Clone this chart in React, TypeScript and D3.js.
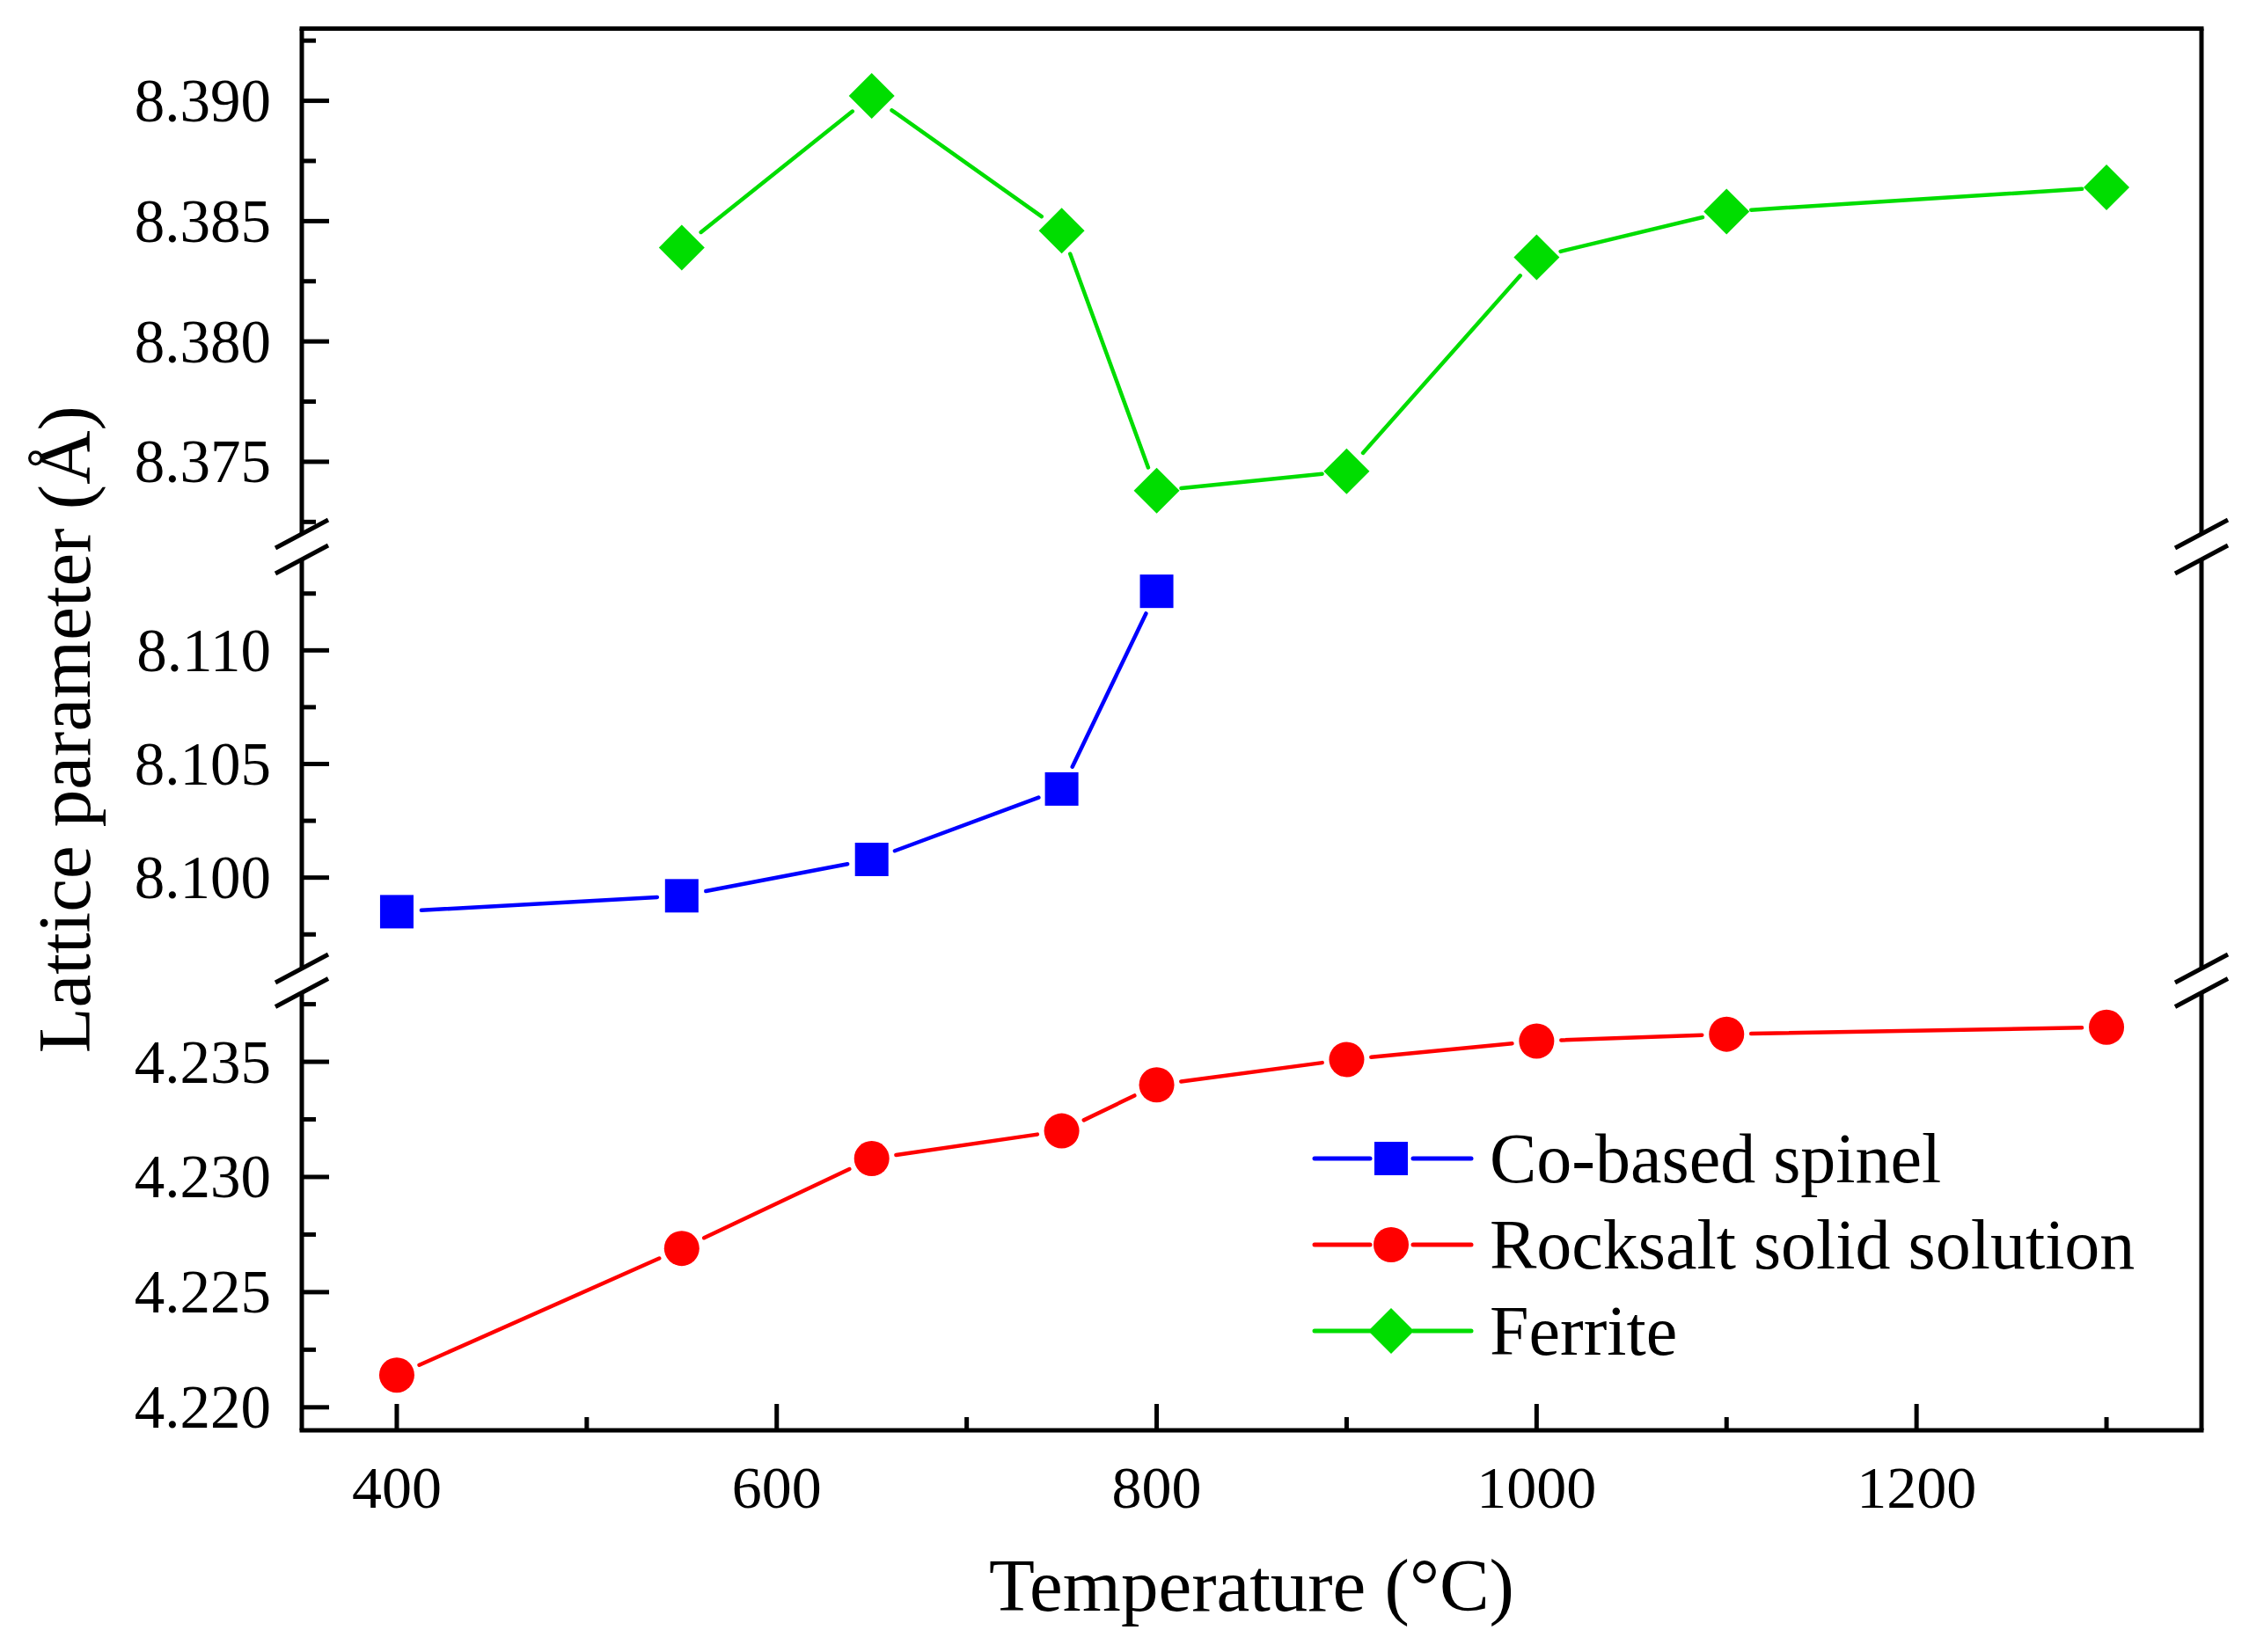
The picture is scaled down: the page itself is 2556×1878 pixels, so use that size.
import React from "react";
import * as d3 from "d3";

// temperatures (°C) and lattice parameters (Å)
const spinelTemp = [400, 550, 650, 750, 800];
const spinelA = [8.0985, 8.0992, 8.1008, 8.1039, 8.1126];

const rocksaltTemp = [400, 550, 650, 750, 800, 900, 1000, 1100, 1300];
const rocksaltA = [4.2214, 4.2269, 4.2308, 4.232, 4.234, 4.2351, 4.2359, 4.2362, 4.2365];

const ferriteTemp = [550, 650, 750, 800, 900, 1000, 1100, 1300];
const ferriteA = [8.3839, 8.3902, 8.3846, 8.3738, 8.3746, 8.3835, 8.3854, 8.3864];

const xDomain = [350, 1350];
const xMajorTicks = [400, 600, 800, 1000, 1200];
const xMinorTicks = [500, 700, 900, 1100, 1300];

// broken y axis: top, middle, bottom panels
const panelDomains = [
  [8.372, 8.393],
  [8.096, 8.114],
  [4.219, 4.238],
];
const panelMajorTicks = [
  [8.375, 8.38, 8.385, 8.39],
  [8.1, 8.105, 8.11],
  [4.22, 4.225, 4.23, 4.235],
];

const legendLabels = ["Co-based spinel", "Rocksalt solid solution", "Ferrite"];

const W = 2556;
const H = 1878;
const left = 343;
const right = 2502;
const top = 32.5;
const bottom = 1626;
const panelRanges = [
  [607, top],
  [1101, 636],
  [bottom, 1128.5],
];

const FONT = "'Liberation Serif', 'Times New Roman', serif";
const BLUE = "#0000FF";
const RED = "#FF0000";
const GREEN = "#00DD00";

const x = d3.scaleLinear().domain(xDomain).range([left, right]);
const yScales = panelDomains.map((d, i) => d3.scaleLinear().domain(d).range(panelRanges[i]));

type Series = { temp: number[]; a: number[]; color: string; marker: string; panel: number };

const series: Series[] = [
  { temp: spinelTemp, a: spinelA, color: BLUE, marker: "square", panel: 1 },
  { temp: rocksaltTemp, a: rocksaltA, color: RED, marker: "circle", panel: 2 },
  { temp: ferriteTemp, a: ferriteA, color: GREEN, marker: "diamond", panel: 0 },
];

const Marker = ({ kind, cx, cy, color }: { kind: string; cx: number; cy: number; color: string }) => {
  if (kind === "square") return <rect x={cx - 19} y={cy - 19} width={38} height={38} fill={color} />;
  if (kind === "circle") return <circle cx={cx} cy={cy} r={20} fill={color} />;
  return <path d={`M${cx},${cy - 26}L${cx + 26},${cy}L${cx},${cy + 26}L${cx - 26},${cy}Z`} fill={color} />;
};

// segments between markers, trimmed so the line stops short of each symbol
const gapSegments = (pts: [number, number][], gap: number) => {
  const out: [number, number, number, number][] = [];
  for (let i = 0; i < pts.length - 1; i++) {
    const [x1, y1] = pts[i];
    const [x2, y2] = pts[i + 1];
    const len = Math.hypot(x2 - x1, y2 - y1);
    if (len <= gap * 2) continue;
    const ux = (x2 - x1) / len;
    const uy = (y2 - y1) / len;
    out.push([x1 + ux * gap, y1 + uy * gap, x2 - ux * gap, y2 - uy * gap]);
  }
  return out;
};

const minorValues = (d: number[]) => {
  const vals: { v: number; major: boolean }[] = [];
  for (let i = Math.ceil(d[0] * 400 - 1e-6); i <= Math.floor(d[1] * 400 + 1e-6); i++) {
    vals.push({ v: i / 400, major: i % 2 === 0 });
  }
  return vals;
};

const fmt = d3.format(".3f");

export default function App() {
  const breakYs = [panelRanges[0][0], panelRanges[1][1], panelRanges[1][0], panelRanges[2][1]];

  return (
    <svg
      width={W}
      height={H}
      style={{ position: "absolute", left: 0, top: 0, background: "#fff" }}
      fontFamily={FONT}
    >
      {/* data lines and markers */}
      {series.map((s, si) => {
        const y = yScales[s.panel];
        const pts = s.temp.map((t, i) => [x(t), y(s.a[i])] as [number, number]);
        return (
          <g key={si}>
            {gapSegments(pts, 28).map((seg, i) => (
              <line
                key={i}
                x1={seg[0]}
                y1={seg[1]}
                x2={seg[2]}
                y2={seg[3]}
                stroke={s.color}
                strokeWidth={4.5}
                strokeLinecap="round"
              />
            ))}
            {pts.map((p, i) => (
              <Marker key={i} kind={s.marker} cx={p[0]} cy={p[1]} color={s.color} />
            ))}
          </g>
        );
      })}

      {/* frame: top and bottom */}
      <line x1={left - 2.5} x2={right + 2.5} y1={top} y2={top} stroke="#000" strokeWidth={5} />
      <line x1={left - 2.5} x2={right + 2.5} y1={bottom} y2={bottom} stroke="#000" strokeWidth={5} />

      {/* left / right axis pieces, y ticks and labels per panel */}
      {yScales.map((y, pi) => {
        const [y0, y1] = panelRanges[pi];
        return (
          <g key={pi}>
            <line x1={left} x2={left} y1={y0} y2={y1} stroke="#000" strokeWidth={5} />
            <line x1={right} x2={right} y1={y0} y2={y1} stroke="#000" strokeWidth={5} />
            {minorValues(panelDomains[pi]).map((t, i) => (
              <line
                key={i}
                x1={left}
                x2={left + (t.major ? 31 : 16)}
                y1={y(t.v)}
                y2={y(t.v)}
                stroke="#000"
                strokeWidth={5}
              />
            ))}
            {panelMajorTicks[pi].map((t) => (
              <text key={t} x={308} y={y(t)} dy="0.34em" textAnchor="end" fontSize={69}>
                {fmt(t)}
              </text>
            ))}
          </g>
        );
      })}

      {/* axis break marks */}
      {breakYs.map((by, i) =>
        [left, right].map((ax) => (
          <line
            key={`${i}-${ax}`}
            x1={ax - 30}
            y1={by + 16}
            x2={ax + 30}
            y2={by - 16}
            stroke="#000"
            strokeWidth={5}
          />
        ))
      )}

      {/* x ticks */}
      {xMajorTicks.map((t) => (
        <g key={t}>
          <line x1={x(t)} x2={x(t)} y1={bottom} y2={bottom - 30} stroke="#000" strokeWidth={5} />
          <text x={x(t)} y={1714} textAnchor="middle" fontSize={68}>
            {t}
          </text>
        </g>
      ))}
      {xMinorTicks.map((t) => (
        <line key={t} x1={x(t)} x2={x(t)} y1={bottom} y2={bottom - 15} stroke="#000" strokeWidth={5} />
      ))}

      {/* axis titles */}
      <text x={(left + right) / 2} y={1831} textAnchor="middle" fontSize={85}>
        Temperature (°C)
      </text>
      <text
        transform={`translate(102,${(top + bottom) / 2}) rotate(-90)`}
        textAnchor="middle"
        fontSize={85}
      >
        Lattice parameter (Å)
      </text>

      {/* legend */}
      {series.map((s, i) => {
        const ly = 1317 + i * 98;
        return (
          <g key={i}>
            <line x1={1494} x2={1557} y1={ly} y2={ly} stroke={s.color} strokeWidth={5} strokeLinecap="round" />
            <line x1={1606} x2={1672} y1={ly} y2={ly} stroke={s.color} strokeWidth={5} strokeLinecap="round" />
            <Marker kind={s.marker} cx={1581} cy={ly} color={s.color} />
            <text x={1693} y={ly} dy="0.34em" fontSize={80}>
              {legendLabels[i]}
            </text>
          </g>
        );
      })}
    </svg>
  );
}
